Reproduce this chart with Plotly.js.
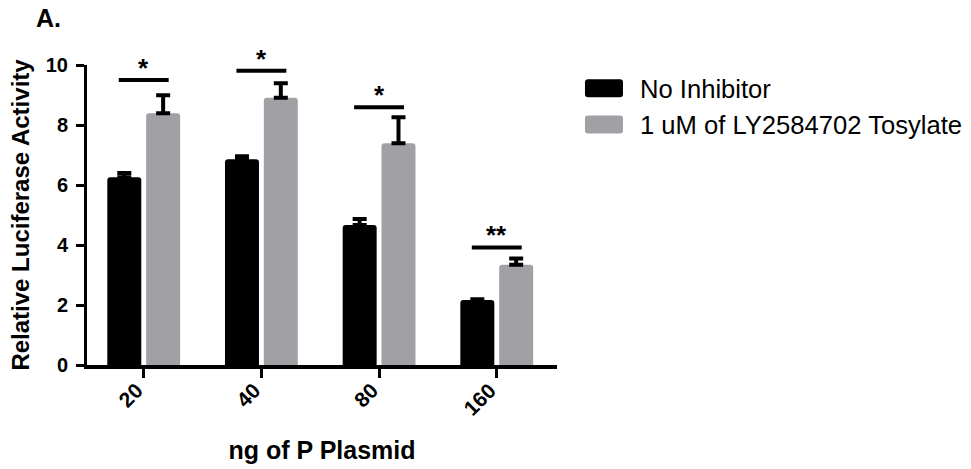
<!DOCTYPE html>
<html>
<head>
<meta charset="utf-8">
<script src="https://cdn.plot.ly/plotly-3.0.1.min.js"></script>
<style>html,body{margin:0;padding:0;background:#fff;}#chart{width:971px;height:469px;}</style>
</head>
<body>
<div id="chart"></div>
<script>
var categories = ['20', '40', '80', '160'];
var seriesNames = ['No Inhibitor', '1 uM of LY2584702 Tosylate'];
var noInhibitor = [6.26, 6.86, 4.67, 2.17];
var noInhibitorErr = [0.14, 0.10, 0.20, 0.02];
var tosylate = [8.39, 8.91, 7.39, 3.34];
var tosylateErr = [0.60, 0.48, 0.87, 0.21];
var sigY = [9.5, 9.81, 8.59, 3.92];
var sigLabels = ['*', '*', '*', '**'];

var FONT = 'Liberation Sans, Arial, sans-serif';
var zeros = categories.map(function(){ return 0; });

var traces = [
  {type: 'bar', name: seriesNames[0], x: categories, y: noInhibitor,
   marker: {color: '#000000', cornerradius: 3},
   error_y: {type: 'data', array: noInhibitorErr, arrayminus: zeros, symmetric: false, color: '#000', thickness: 4, width: 7}},
  {type: 'bar', name: seriesNames[1], x: categories, y: tosylate,
   marker: {color: '#a1a0a5', cornerradius: 3},
   error_y: {type: 'data', array: tosylateErr, arrayminus: zeros, symmetric: false, color: '#000', thickness: 4, width: 7}}
];

var shapes = [];
var annotations = [];
sigY.forEach(function(v, i){
  shapes.push({type: 'line', xref: 'x', yref: 'y', x0: i - 0.212, x1: i + 0.212, y0: v, y1: v,
               line: {color: '#000', width: 4}});
  annotations.push({xref: 'x', yref: 'y', x: i, y: v, text: '<b>' + sigLabels[i] + '</b>', showarrow: false,
                    yanchor: 'middle', yshift: 12, font: {family: FONT, size: 26, color: '#000'}});
});
annotations.push({xref: 'paper', yref: 'paper', x: -0.1137, y: 1.155, xanchor: 'left', yanchor: 'middle',
                  text: '<b>A.</b>', showarrow: false, font: {family: FONT, size: 25, color: '#000'}});

var layout = {
  width: 971, height: 469,
  margin: {l: 86.5, r: 414, t: 65, b: 104},
  paper_bgcolor: '#fff', plot_bgcolor: '#fff',
  barmode: 'group', bargap: 0.34, bargroupgap: 0.125,
  font: {family: FONT, color: '#000'},
  showlegend: true,
  legend: {xref: 'container', yref: 'container', x: 0.587, y: 0.8614, xanchor: 'left', yanchor: 'top',
           bgcolor: 'rgba(0,0,0,0)', itemwidth: 60,
           font: {family: FONT, size: 25.6, color: '#000'}},
  xaxis: {type: 'category', range: [-0.482, 3.512], automargin: false, showline: true, linewidth: 4, linecolor: '#000',
          ticks: 'outside', ticklen: 9, tickwidth: 3, tickcolor: '#000', tickangle: -45,
          ticklabelshift: -7, ticklabelstandoff: -8,
          tickfont: {family: FONT, size: 21, color: '#000', weight: 'bold'},
          showgrid: false, zeroline: false, fixedrange: true,
          title: {text: '<b>ng of P Plasmid</b>', standoff: 24, font: {family: FONT, size: 25, color: '#000'}}},
  yaxis: {range: [0, 10], dtick: 2, automargin: false, showline: true, linewidth: 3, linecolor: '#000',
          ticks: 'outside', ticklen: 8, tickwidth: 3, tickcolor: '#000', ticklabelstandoff: 4,
          tickfont: {family: FONT, size: 20, color: '#000', weight: 'bold'},
          showgrid: false, zeroline: false, fixedrange: true,
          title: {text: '<b>Relative Luciferase Activity</b>', standoff: 10, font: {family: FONT, size: 24, color: '#000'}}},
  shapes: shapes,
  annotations: annotations
};

Plotly.newPlot('chart', traces, layout, {staticPlot: true, displayModeBar: false}).then(function(gd){
  var paths = gd.querySelectorAll('.legend .legendpoints path');
  paths.forEach(function(p){
    p.setAttribute('d', 'M-17,-9H15A3,3 0 0 1 18,-6V6A3,3 0 0 1 15,9H-17A3,3 0 0 1 -20,6V-6A3,3 0 0 1 -17,-9Z');
    p.style.strokeWidth = '0px';
  });
});
</script>
</body>
</html>
